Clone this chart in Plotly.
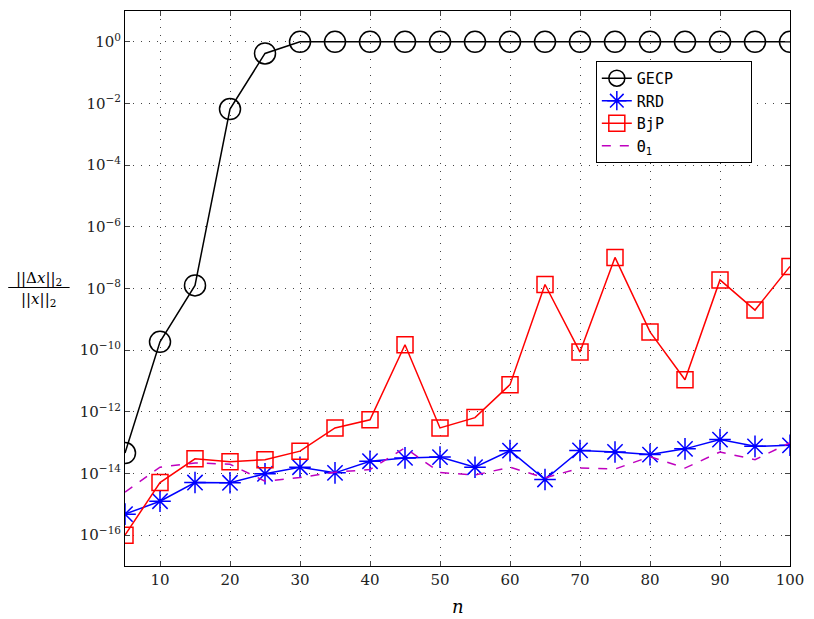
import plotly.graph_objects as go

n = [5, 10, 15, 20, 25, 30, 35, 40, 45, 50, 55, 60, 65, 70, 75, 80, 85, 90, 95, 100]

gecp = [4.6e-14, 1.86e-10, 1.26e-8, 6.6e-3, 0.42, 1, 1, 1, 1, 1, 1, 1, 1, 1, 1, 1, 1, 1, 1, 1]
rrd = [4.8e-16, 1.26e-15, 5.1e-15, 5.0e-15, 9.8e-15, 1.6e-14, 1.05e-14, 2.5e-14, 3.2e-14, 3.4e-14,
       1.6e-14, 5.5e-14, 6.4e-15, 5.6e-14, 5.0e-14, 4.1e-14, 6.3e-14, 1.26e-13, 7.6e-14, 8.2e-14]
bjp = [1.0e-16, 5.1e-15, 3.0e-14, 2.4e-14, 2.8e-14, 5.3e-14, 3.0e-13, 5.5e-13, 1.5e-10, 3.0e-13,
       6.5e-13, 7.6e-12, 1.35e-8, 8.7e-11, 1.02e-7, 3.9e-10, 1.1e-11, 1.9e-8, 2.0e-9, 5.2e-8]
theta1 = [2.5e-15, 1.6e-14, 2.2e-14, 2.0e-14, 5.6e-15, 7.4e-15, 1.1e-14, 1.35e-14, 6.8e-14, 1.07e-14,
          8.9e-15, 1.6e-14, 7.2e-15, 1.5e-14, 1.4e-14, 3.5e-14, 1.5e-14, 5.0e-14, 2.8e-14, 1.0e-13]

series_names = ["GECP", "RRD", "BjP", "Θ<sub>1</sub>"]

x_ticks = [10, 20, 30, 40, 50, 60, 70, 80, 90, 100]
y_exps = [-16, -14, -12, -10, -8, -6, -4, -2, 0]
y_ticks = [10.0 ** e for e in y_exps]
y_labels = ["10<sup>%s</sup>" % (str(e).replace("-", "−")) for e in y_exps]

serif = "DejaVu Serif"
mono = "DejaVu Sans Mono"
pad = "\u00a0" * 8

fig = go.Figure()
fig.add_trace(go.Scatter(x=n, y=gecp, name=series_names[0] + pad, mode="lines+markers",
                         line=dict(color="black", width=1.5),
                         marker=dict(symbol="circle-open", size=21, color="black",
                                     line=dict(width=1.5, color="black"))))
fig.add_trace(go.Scatter(x=n, y=rrd, name=series_names[1], mode="lines+markers",
                         line=dict(color="#0000ff", width=1.5),
                         marker=dict(symbol="asterisk-open", size=18, color="#0000ff",
                                     line=dict(width=1.5, color="#0000ff"))))
fig.add_trace(go.Scatter(x=n, y=bjp, name=series_names[2], mode="lines+markers",
                         line=dict(color="#ff0000", width=1.5),
                         marker=dict(symbol="square-open", size=16, color="#ff0000",
                                     line=dict(width=1.5, color="#ff0000"))))
fig.add_trace(go.Scatter(x=n, y=theta1, name=series_names[3], mode="lines",
                         line=dict(color="#bf00bf", width=1.5, dash="dash")))

grid_style = dict(showgrid=True, gridcolor="#444", griddash="1px,7px", gridwidth=1)

fig.update_layout(
    width=814, height=619,
    margin=dict(l=125, r=17, t=10, b=53),
    plot_bgcolor="white", paper_bgcolor="white",
    font=dict(family=serif, size=15, color="#222"),
    showlegend=True,
    legend=dict(x=0.708, y=0.91, xanchor="left", yanchor="top",
                bgcolor="white", bordercolor="black", borderwidth=1,
                font=dict(family=mono, size=15, color="black"),
                tracegroupgap=0),
)
fig.update_xaxes(range=[5, 100], tickvals=x_ticks, ticks="inside", ticklen=5,
                 showline=True, linecolor="black", linewidth=1, mirror="ticks",
                 zeroline=False, tickfont=dict(family=serif, size=15), **grid_style)
fig.update_yaxes(type="log", range=[-17, 1], tickvals=y_ticks, ticktext=y_labels,
                 ticks="inside", ticklen=5,
                 showline=True, linecolor="black", linewidth=1, mirror="ticks",
                 zeroline=False, tickfont=dict(family=serif, size=15), **grid_style)

fig.add_annotation(xref="paper", yref="paper", x=-0.1295, y=0.518, text="||Δ<i>x</i>||<sub>2</sub>",
                   showarrow=False, font=dict(family=serif, size=15, color="black"),
                   xanchor="center", yanchor="middle")
fig.add_annotation(xref="paper", yref="paper", x=-0.1295, y=0.481, text="||<i>x</i>||<sub>2</sub>",
                   showarrow=False, font=dict(family=serif, size=15, color="black"),
                   xanchor="center", yanchor="middle")
fig.add_shape(type="line", xref="paper", yref="paper", x0=-0.1756, x1=-0.0833, y0=0.5018, y1=0.5018,
              line=dict(color="black", width=1.2))
fig.add_annotation(xref="paper", yref="paper", x=0.5, y=-0.0737, text="<i>n</i>",
                   showarrow=False, font=dict(family=serif, size=18, color="black"),
                   xanchor="center", yanchor="middle")

fig.write_html("out.html")
